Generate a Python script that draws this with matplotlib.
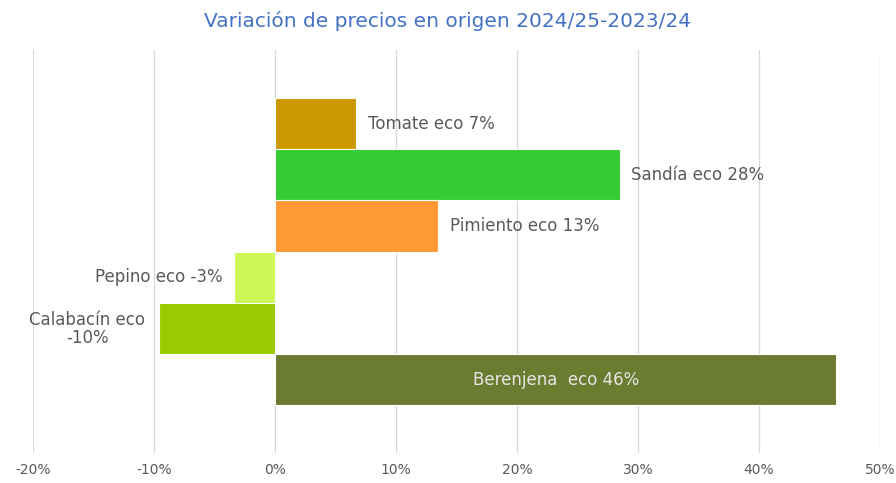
import matplotlib.pyplot as plt
from matplotlib.ticker import FuncFormatter

# data
products = ["Tomate eco", "Sandía eco", "Pimiento eco", "Pepino eco",
            "Calabacín eco", "Berenjena  eco"]
variation = [6.7, 28.5, 13.5, -3.4, -9.6, 46.4]
label_pct = ["7%", "28%", "13%", "-3%", "-10%", "46%"]
colors = ["#CC9900", "#33CC33", "#FF9933", "#CCF755", "#99CC00", "#6B7B2F"]

fig = plt.figure(figsize=(8.96, 4.83), dpi=100)
ax = fig.add_axes([0.0368, 0.062, 0.9453, 0.834])

pos = list(range(len(products)))
ax.barh(pos, variation, height=1.0, color=colors, edgecolor="white",
        linewidth=0.8, zorder=2)

ax.set_xlim(-20, 50)
ax.set_xticks(range(-20, 51, 10))
ax.xaxis.set_major_formatter(FuncFormatter(lambda v, p: "%d%%" % v))
ax.set_ylim(5.5 + 0.93, -0.5 - 0.93)
ax.set_yticks([])
ax.grid(axis="x", color="#D9D9D9", linewidth=0.9, zorder=0)
for s in ax.spines.values():
    s.set_visible(False)
ax.tick_params(axis="x", length=0, labelsize=10, labelcolor="#595959", pad=7)

txt = "#595959"
fs = 12
# data labels
ax.text(variation[0] + 0.95, 0, products[0] + " " + label_pct[0],
        va="center", ha="left", fontsize=fs, color=txt)
ax.text(variation[1] + 0.95, 1, products[1] + " " + label_pct[1],
        va="center", ha="left", fontsize=fs, color=txt)
ax.text(variation[2] + 0.95, 2, products[2] + " " + label_pct[2],
        va="center", ha="left", fontsize=fs, color=txt)
ax.text(variation[3] - 0.9, 3, products[3] + " " + label_pct[3],
        va="center", ha="right", fontsize=fs, color=txt)
ax.text(-15.5, 4, products[4] + "\n" + label_pct[4],
        va="center", ha="center", fontsize=fs, color=txt, linespacing=1.0)
ax.text(variation[5] / 2, 5, products[5] + " " + label_pct[5],
        va="center", ha="center", fontsize=fs, color="#E6E6E6")

fig.suptitle("Variación de precios en origen 2024/25-2023/24", y=0.978,
             fontsize=14.5, color="#4472C4")

plt.savefig("out.png", dpi=100)
